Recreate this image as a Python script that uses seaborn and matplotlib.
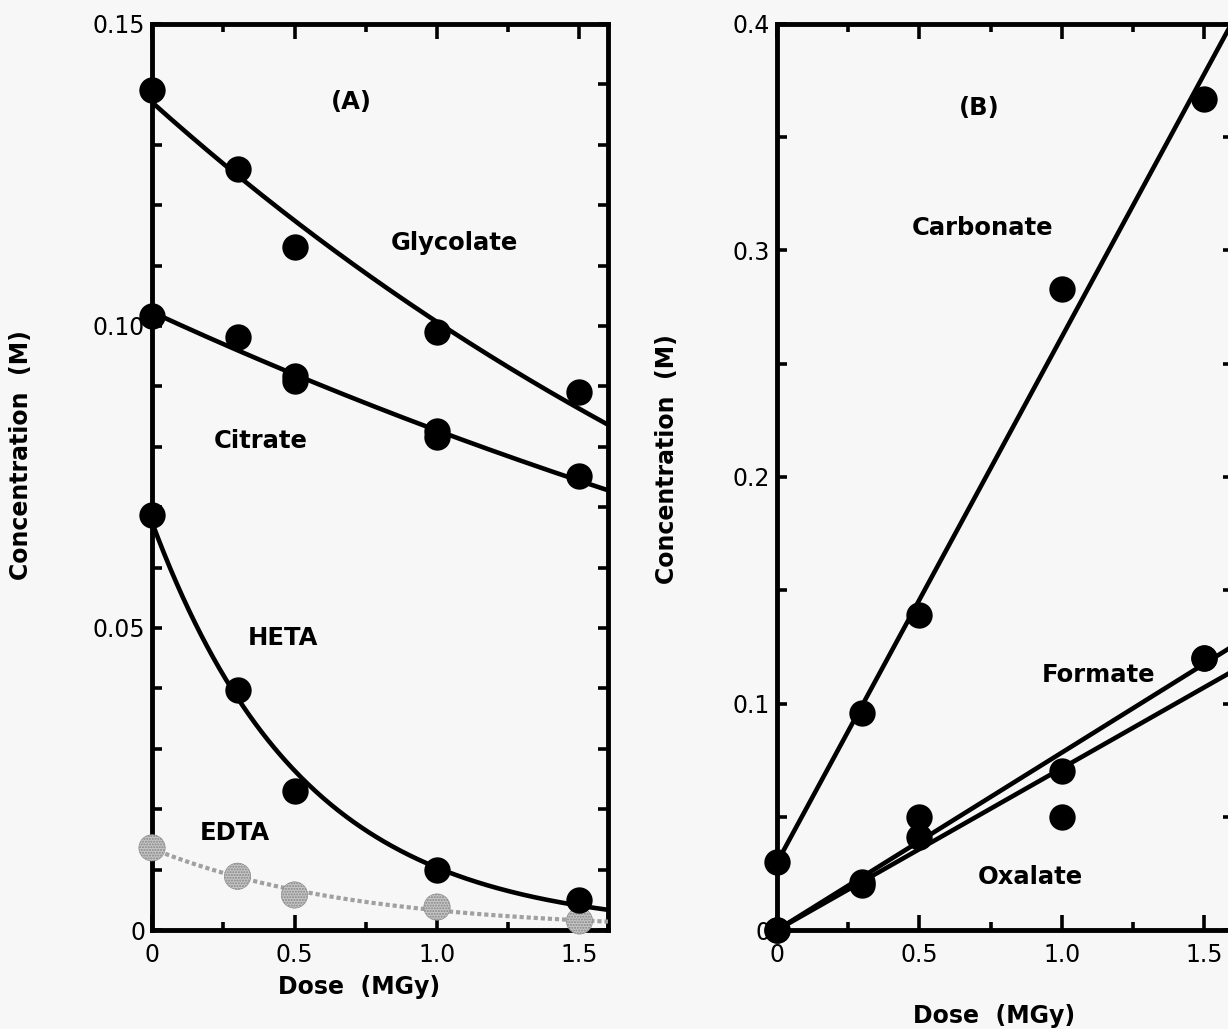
import numpy as np
import pandas as pd
import matplotlib
matplotlib.use("Agg")
import matplotlib.pyplot as plt
import seaborn as sns
from matplotlib.ticker import MultipleLocator, FixedLocator, FixedFormatter

# ---------------- data ----------------
dose = [0.0, 0.3, 0.5, 1.0, 1.5]

# panel A
glycolate = [0.139, 0.126, 0.113, 0.099, 0.089]
citrate_dose = [0.0, 0.3, 0.5, 0.5, 1.0, 1.0, 1.5]
citrate = [0.1017, 0.0982, 0.0917, 0.0909, 0.0826, 0.0816, 0.0752]
heta = [0.0687, 0.0397, 0.0230, 0.0099, 0.0050]
edta = [0.0136, 0.0089, 0.0058, 0.0038, 0.0015]

# panel B
carbonate = [0.030, 0.096, 0.139, 0.283, 0.367]
formate = [0.0, 0.021, 0.050, 0.070, 0.120]
oxalate = [0.0, 0.020, 0.041, 0.050, 0.120]

xticks = [0.0, 0.5, 1.0, 1.5]
xticklabels = ["0", "0.5", "1.0", "1.5"]
yticksA = [0.0, 0.05, 0.10, 0.15]
yticklabelsA = ["0", "0.05", "0.10", "0.15"]
yticksB = [0.0, 0.1, 0.2, 0.3, 0.4]
yticklabelsB = ["0", "0.1", "0.2", "0.3", "0.4"]

# ---------------- style ----------------
sns.set_theme(style="ticks")
BG = "#f7f7f7"
plt.rcParams["font.family"] = ["DejaVu Sans"]
plt.rcParams["figure.facecolor"] = BG
plt.rcParams["axes.facecolor"] = BG
plt.rcParams["text.color"] = "black"
plt.rcParams["axes.labelcolor"] = "black"
plt.rcParams["xtick.color"] = "black"
plt.rcParams["ytick.color"] = "black"

fig = plt.figure(figsize=(12.28, 10.29), dpi=100)
axA = fig.add_axes([0.1238, 0.0962, 0.3713, 0.8805])
axB = fig.add_axes([0.6327, 0.0962, 0.3713, 0.8805])

grid = np.linspace(0, 1.6, 300)


def exp_fit(x, y, power=1.0):
    x = np.asarray(x, float)
    y = np.asarray(y, float)
    b, a = np.polyfit(x, np.log(y), 1, w=y ** power)
    return np.exp(a + b * grid)


def origin_fit(x, y):
    x = np.asarray(x, float)
    y = np.asarray(y, float)
    return (x * y).sum() / (x * x).sum() * grid


def lin_fit(x, y):
    m, c = np.polyfit(np.asarray(x, float), np.asarray(y, float), 1)
    return m * grid + c


LW = 3.3
DOT = 360

# ---------------- panel A ----------------
for xs, ys, pw in [(dose, glycolate, 1.0), (citrate_dose, citrate, 1.0), (dose, heta, 0.5)]:
    sns.lineplot(x=grid, y=exp_fit(xs, ys, pw), color="black", lw=LW, ax=axA, zorder=3)
    sns.scatterplot(x=xs, y=ys, s=DOT, color="black", edgecolor="black", linewidth=0,
                    ax=axA, zorder=5, clip_on=False)

sns.lineplot(x=grid, y=exp_fit(dose, edta, 1.0), color="#a0a0a0", lw=3.0, ax=axA,
             zorder=3, linestyle=(0, (1, 0.7)))
sns.scatterplot(x=dose, y=edta, s=DOT, color="#c6c6c6", edgecolor="#858585",
                linewidth=0.4, hatch="......", ax=axA, zorder=4, clip_on=False)

axA.set_xlim(0, 1.6)
axA.set_ylim(0, 0.15)
axA.yaxis.set_major_locator(FixedLocator(yticksA))
axA.yaxis.set_major_formatter(FixedFormatter(yticklabelsA))
axA.yaxis.set_minor_locator(MultipleLocator(0.01))

tA = dict(fontsize=17.5, fontweight="bold", ha="center", va="center", color="black")
axA.text(0.70, 0.137, "(A)", **tA)
axA.text(1.06, 0.1137, "Glycolate", **tA)
axA.text(0.38, 0.081, "Citrate", **tA)
axA.text(0.46, 0.0483, "HETA", **tA)
axA.text(0.29, 0.016, "EDTA", **tA)

# ---------------- panel B ----------------
sns.lineplot(x=grid, y=lin_fit(dose, carbonate), color="black", lw=LW, ax=axB, zorder=3)
sns.lineplot(x=grid, y=origin_fit(dose, formate), color="black", lw=LW, ax=axB, zorder=3)
sns.lineplot(x=grid, y=origin_fit(dose, oxalate), color="black", lw=LW, ax=axB, zorder=3)
for ys in [carbonate, formate, oxalate]:
    sns.scatterplot(x=dose, y=ys, s=DOT, color="black", edgecolor="black", linewidth=0,
                    ax=axB, zorder=5, clip_on=False)

axB.set_xlim(0, 1.6)
axB.set_ylim(0, 0.4)
axB.yaxis.set_major_locator(FixedLocator(yticksB))
axB.yaxis.set_major_formatter(FixedFormatter(yticklabelsB))
axB.yaxis.set_minor_locator(MultipleLocator(0.05))

axB.text(0.71, 0.363, "(B)", **tA)
axB.text(0.72, 0.310, "Carbonate", **tA)
axB.text(1.13, 0.1126, "Formate", **tA)
axB.text(0.89, 0.0234, "Oxalate", **tA)

# ---------------- common axis styling ----------------
for ax in (axA, axB):
    ax.xaxis.set_major_locator(FixedLocator(xticks))
    ax.xaxis.set_major_formatter(FixedFormatter(xticklabels))
    ax.xaxis.set_minor_locator(MultipleLocator(0.25))
    for sp in ax.spines.values():
        sp.set_visible(True)
        sp.set_linewidth(3.5)
        sp.set_color("black")
    ax.tick_params(which="both", direction="in", top=True, right=True,
                   color="black", width=2.6, labelsize=17, labelcolor="black")
    ax.tick_params(axis="x", which="major", length=11, pad=9)
    ax.tick_params(axis="x", which="minor", length=6)
    ax.tick_params(axis="y", which="both", length=7, pad=5)
    ax.set_xlabel("Dose  (MGy)", fontsize=17, fontweight="bold", color="black")
    ax.set_ylabel("Concentration  (M)", fontsize=17, fontweight="bold", color="black")
    ax.grid(False)

axA.xaxis.set_label_coords(0.454, -0.050)
axA.yaxis.set_label_coords(-0.261, 0.524)
axB.xaxis.set_label_coords(0.476, -0.082)
axB.yaxis.set_label_coords(-0.215, 0.52)

fig.savefig("out.png", dpi=100, facecolor=BG)
